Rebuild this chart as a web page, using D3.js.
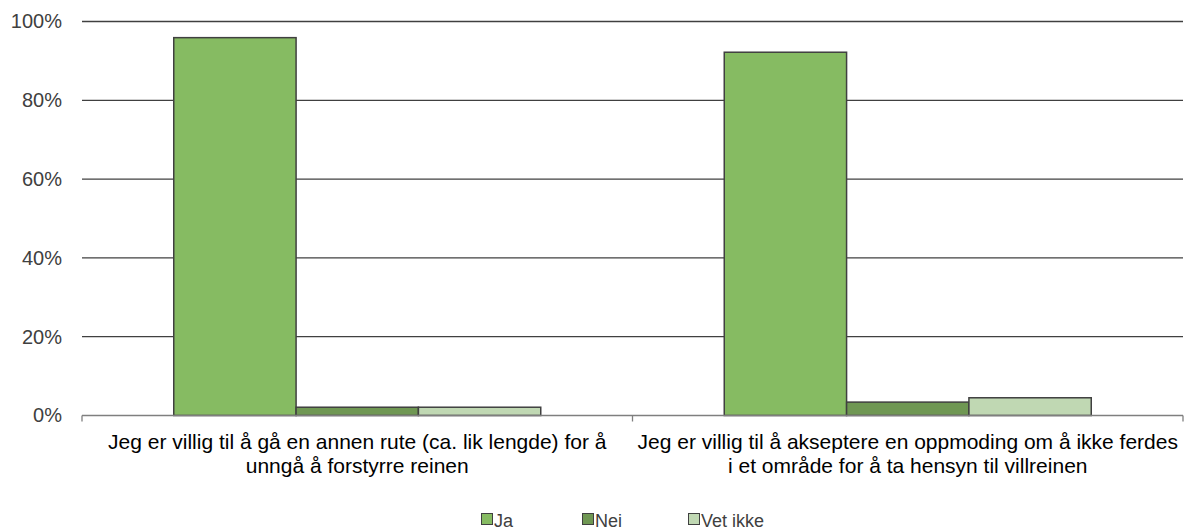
<!DOCTYPE html>
<html>
<head>
<meta charset="utf-8">
<script src="https://cdn.jsdelivr.net/npm/d3@7"></script>
<style>
  html, body { margin: 0; padding: 0; background: #fff; }
  svg { display: block; font-family: "Liberation Sans", Arial, sans-serif; }
</style>
</head>
<body>
<svg id="chart" width="1185" height="529"></svg>
<script>
// Survey answers, share of respondents per statement
const categories = [
  ["Jeg er villig til å gå en annen rute (ca. lik lengde) for å", "unngå å forstyrre reinen"],
  ["Jeg er villig til å akseptere en oppmoding om å ikke ferdes", "i et område for å ta hensyn til villreinen"]
];
const seriesNames = ["Ja", "Nei", "Vet ikke"];
const seriesColors = ["#86bb62", "#6f9753", "#c0d8b3"];
const ja = [0.959, 0.922];
const nei = [0.021, 0.034];
const vetIkke = [0.021, 0.045];
const yTicks = [0, 0.2, 0.4, 0.6, 0.8, 1.0];

const values = [ja, nei, vetIkke];

const svg = d3.select("#chart");
const margin = { left: 82, right: 2, top: 21.5, bottom: 113.5 };
const W = 1185, H = 529;
const innerW = W - margin.left - margin.right;
const innerH = H - margin.top - margin.bottom;

const g = svg.append("g").attr("transform", `translate(${margin.left},${margin.top})`);

const x0 = d3.scaleBand().domain(d3.range(categories.length)).range([0, innerW]).paddingInner(0).paddingOuter(0);
const x1 = d3.scaleBand().domain(d3.range(seriesNames.length)).range([0, x0.bandwidth()]).paddingOuter(0.75).paddingInner(0);
const y = d3.scaleLinear().domain([0, 1]).range([innerH, 0]);

// horizontal gridlines
g.append("g").selectAll("line").data(yTicks.filter(t => t > 0)).join("line")
  .attr("x1", 0).attr("x2", innerW)
  .attr("y1", d => y(d)).attr("y2", d => y(d))
  .attr("stroke", "#404040").attr("stroke-width", 1.3);

// y axis labels
const yAxis = d3.axisLeft(y).tickValues(yTicks).tickFormat(d3.format(".0%")).tickSize(0).tickPadding(20);
const ya = g.append("g").call(yAxis);
ya.select(".domain").remove();
ya.selectAll("text").attr("font-size", 20).attr("fill", "#404040")
  .attr("font-family", "\"Liberation Sans\", Arial, sans-serif");

// bars
categories.forEach((c, ci) => {
  const grp = g.append("g").attr("transform", `translate(${x0(ci)},0)`);
  grp.selectAll("rect").data(values.map((s, si) => ({ si, v: s[ci] }))).join("rect")
    .attr("x", d => x1(d.si))
    .attr("width", x1.bandwidth())
    .attr("y", d => y(d.v))
    .attr("height", d => y(0) - y(d.v))
    .attr("fill", d => seriesColors[d.si])
    .attr("stroke", "#404040").attr("stroke-width", 1.5);
});

// x axis
const xAxisG = g.append("g").attr("transform", `translate(0,${innerH})`);
xAxisG.append("line").attr("x1", 0).attr("x2", innerW).attr("y1", 0).attr("y2", 0)
  .attr("stroke", "#7f7f7f").attr("stroke-width", 1.3);
const tickPos = d3.range(categories.length + 1).map(i => i * x0.step());
xAxisG.selectAll(".tk").data(tickPos).join("line")
  .attr("x1", d => d).attr("x2", d => d).attr("y1", 0).attr("y2", 6)
  .attr("stroke", "#7f7f7f").attr("stroke-width", 1.3);

// category labels
categories.forEach((lines, ci) => {
  const cx = x0(ci) + x0.bandwidth() / 2;
  const t = xAxisG.append("text")
    .attr("x", cx)
    .attr("y", 33)
    .attr("text-anchor", "middle")
    .attr("font-size", 21).attr("fill", "#000");
  lines.forEach((ln, li) => {
    t.append("tspan").attr("x", cx).attr("dy", li === 0 ? 0 : 24).text(ln);
  });
});

// legend
const legendX = [481, 582, 688];
const legend = svg.append("g");
seriesNames.forEach((n, i) => {
  legend.append("rect").attr("x", legendX[i] + 0.5).attr("y", 513.5).attr("width", 11).attr("height", 11)
    .attr("fill", seriesColors[i]).attr("stroke", "#404040").attr("stroke-width", 1);
  legend.append("text").attr("x", legendX[i] + 13).attr("y", 526.5)
    .attr("font-size", 18).attr("fill", "#404040").text(n);
});
</script>
</body>
</html>
